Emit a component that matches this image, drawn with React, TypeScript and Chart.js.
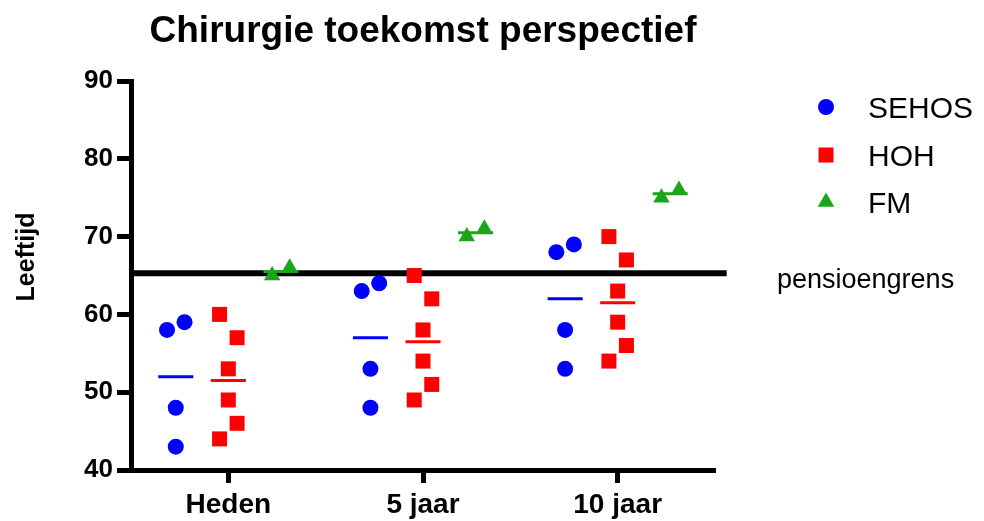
import React, { useEffect, useRef } from 'react';
import { Chart, registerables } from 'chart.js';

Chart.register(...registerables);

// ---------- data ----------
const categories = ['Heden', '5 jaar', '10 jaar'];
const seriesNames = ['SEHOS', 'HOH', 'FM'];
const sehosValues = [
  [59, 58, 48, 43],
  [64, 63, 53, 48],
  [69, 68, 58, 53],
];
const hohValues = [
  [60, 57, 53, 49, 46, 44],
  [65, 62, 58, 54, 51, 49],
  [70, 67, 63, 59, 56, 54],
];
const fmValues = [
  [66, 65],
  [71, 70],
  [76, 75],
];
const sehosMeans = [52, 57, 62];
const hohMeans = [51.5, 56.5, 61.5];
const fmMeans = [65.5, 70.5, 75.5];
const pensionAge = 65.3;
const pensionLabel = 'pensioengrens';
const yTickValues = [40, 50, 60, 70, 80, 90];
const chartTitle = 'Chirurgie toekomst perspectief';
const yAxisTitle = 'Leeftijd';

// ---------- layout / style ----------
const FONT = '"Liberation Sans", Arial, Helvetica, sans-serif';
const COLORS = ['#0000ff', '#ff0000', '#1aa51a'];
const STYLES: any[] = ['circle', 'rect', 'triangle'];
const RADII = [8, 10.6, 9.5];
const GROUP_OFFSET = [-0.27, 0, 0.27];
const JITTER = 0.045;
const JITTER_PATTERN = [
  [1, -1, 0, 0],
  [-1, 1, 0, 0, 1, -1],
  [1, -1],
];
const MEAN_HALF = 0.09;

const allValues = [sehosValues, hohValues, fmValues];
const allMeans = [sehosMeans, hohMeans, fmMeans];

function buildDatasets() {
  const ds: any[] = [];
  allValues.forEach((vals, s) => {
    const pts: any[] = [];
    vals.forEach((group, c) => {
      group.forEach((v, i) => {
        pts.push({ x: c + GROUP_OFFSET[s] + JITTER_PATTERN[s][i] * JITTER, y: v });
      });
    });
    ds.push({
      type: 'scatter',
      label: seriesNames[s],
      data: pts,
      pointStyle: STYLES[s],
      pointRadius: RADII[s],
      pointHoverRadius: RADII[s],
      backgroundColor: COLORS[s],
      borderColor: COLORS[s],
      pointBorderWidth: 0,
      showLine: false,
      order: 1,
    });
  });
  allMeans.forEach((means, s) => {
    const pts: any[] = [];
    means.forEach((m, c) => {
      const cx = c + GROUP_OFFSET[s];
      pts.push({ x: cx - MEAN_HALF, y: m });
      pts.push({ x: cx + MEAN_HALF, y: m });
      pts.push({ x: cx + MEAN_HALF + 0.01, y: null });
    });
    ds.push({
      type: 'line',
      label: seriesNames[s] + ' mean',
      data: pts,
      borderColor: COLORS[s],
      borderWidth: 3,
      pointRadius: 0,
      showLine: true,
      spanGaps: false,
      fill: false,
      order: 2,
    });
  });
  ds.push({
    type: 'line',
    label: pensionLabel,
    data: [
      { x: -0.5, y: pensionAge },
      { x: 2.56, y: pensionAge },
    ],
    borderColor: '#000',
    borderWidth: 6,
    pointRadius: 0,
    showLine: true,
    fill: false,
    clip: false,
    order: 3,
  });
  return ds;
}

const overlayPlugin = {
  id: 'overlay',
  afterDraw(chart: any) {
    const ctx = chart.ctx;
    const area = chart.chartArea;
    ctx.save();
    ctx.fillStyle = '#000';
    // title
    ctx.font = `bold 37px ${FONT}`;
    ctx.textAlign = 'center';
    ctx.textBaseline = 'alphabetic';
    ctx.fillText(chartTitle, (area.left + area.right) / 2, 42);
    // y axis title
    ctx.save();
    ctx.translate(34, 257);
    ctx.rotate(-Math.PI / 2);
    ctx.font = `bold 25px ${FONT}`;
    ctx.textAlign = 'center';
    ctx.textBaseline = 'alphabetic';
    ctx.fillText(yAxisTitle, 0, 0);
    ctx.restore();
    // legend
    const legendX = 826;
    const legendY = [107, 155, 202];
    seriesNames.forEach((name, s) => {
      const y = legendY[s];
      ctx.fillStyle = COLORS[s];
      ctx.beginPath();
      if (STYLES[s] === 'circle') {
        ctx.arc(legendX, y, RADII[s], 0, Math.PI * 2);
      } else if (STYLES[s] === 'rect') {
        const h = RADII[s] * Math.SQRT1_2;
        ctx.rect(legendX - h, y - h, 2 * h, 2 * h);
      } else {
        const r = RADII[s];
        ctx.moveTo(legendX, y - r);
        ctx.lineTo(legendX + r * Math.sin((2 * Math.PI) / 3), y + r / 2);
        ctx.lineTo(legendX - r * Math.sin((2 * Math.PI) / 3), y + r / 2);
        ctx.closePath();
      }
      ctx.fill();
      ctx.fillStyle = '#000';
      ctx.font = `30px ${FONT}`;
      ctx.textAlign = 'left';
      ctx.textBaseline = 'alphabetic';
      ctx.fillText(name, 868, y + 11);
    });
    // pension label
    ctx.fillStyle = '#000';
    ctx.font = `27px ${FONT}`;
    ctx.textAlign = 'left';
    ctx.fillText(pensionLabel, 777, 288);
    ctx.restore();
  },
};

export default function App() {
  const ref = useRef<HTMLCanvasElement | null>(null);
  useEffect(() => {
    document.body.style.margin = '0';
    if (!ref.current) return;
    const chart = new Chart(ref.current, {
      type: 'scatter',
      data: { datasets: buildDatasets() },
      options: {
        animation: false,
        responsive: false,
        maintainAspectRatio: false,
        devicePixelRatio: 1,
        layout: { padding: { top: 81, right: 269, bottom: 0, left: 0 } },
        plugins: {
          legend: { display: false },
          title: { display: false },
          tooltip: { enabled: false },
        },
        scales: {
          x: {
            type: 'linear',
            min: -0.5,
            max: 2.5,
            afterBuildTicks: (s: any) => {
              s.ticks = categories.map((_, i) => ({ value: i }));
            },
            afterFit: (s: any) => {
              s.height = 51;
            },
            ticks: {
              callback: (v: any) => categories[Math.round(Number(v))] ?? '',
              font: { family: FONT, size: 28, weight: 'bold' },
              color: '#000',
              padding: 5,
              maxRotation: 0,
              autoSkip: false,
            },
            grid: {
              display: true,
              drawOnChartArea: false,
              drawTicks: true,
              tickLength: 13,
              tickWidth: 5,
              tickColor: '#000',
            },
            border: { display: true, color: '#000', width: 5 },
          },
          y: {
            type: 'linear',
            min: 40,
            max: 90,
            afterBuildTicks: (s: any) => {
              s.ticks = yTickValues.map((v) => ({ value: v }));
            },
            afterFit: (s: any) => {
              s.width = 131;
            },
            ticks: {
              font: { family: FONT, size: 26, weight: 'bold' },
              color: '#000',
              padding: 4,
            },
            grid: {
              display: true,
              drawOnChartArea: false,
              drawTicks: true,
              tickLength: 14,
              tickWidth: 5,
              tickColor: '#000',
            },
            border: { display: true, color: '#000', width: 5 },
          },
        },
      } as any,
      plugins: [overlayPlugin],
    });
    return () => chart.destroy();
  }, []);
  return (
    <div style={{ width: 984, height: 521 }}>
      <style>{'body{margin:0}'}</style>
      <canvas ref={ref} width={984} height={521} style={{ display: 'block' }} />
    </div>
  );
}
